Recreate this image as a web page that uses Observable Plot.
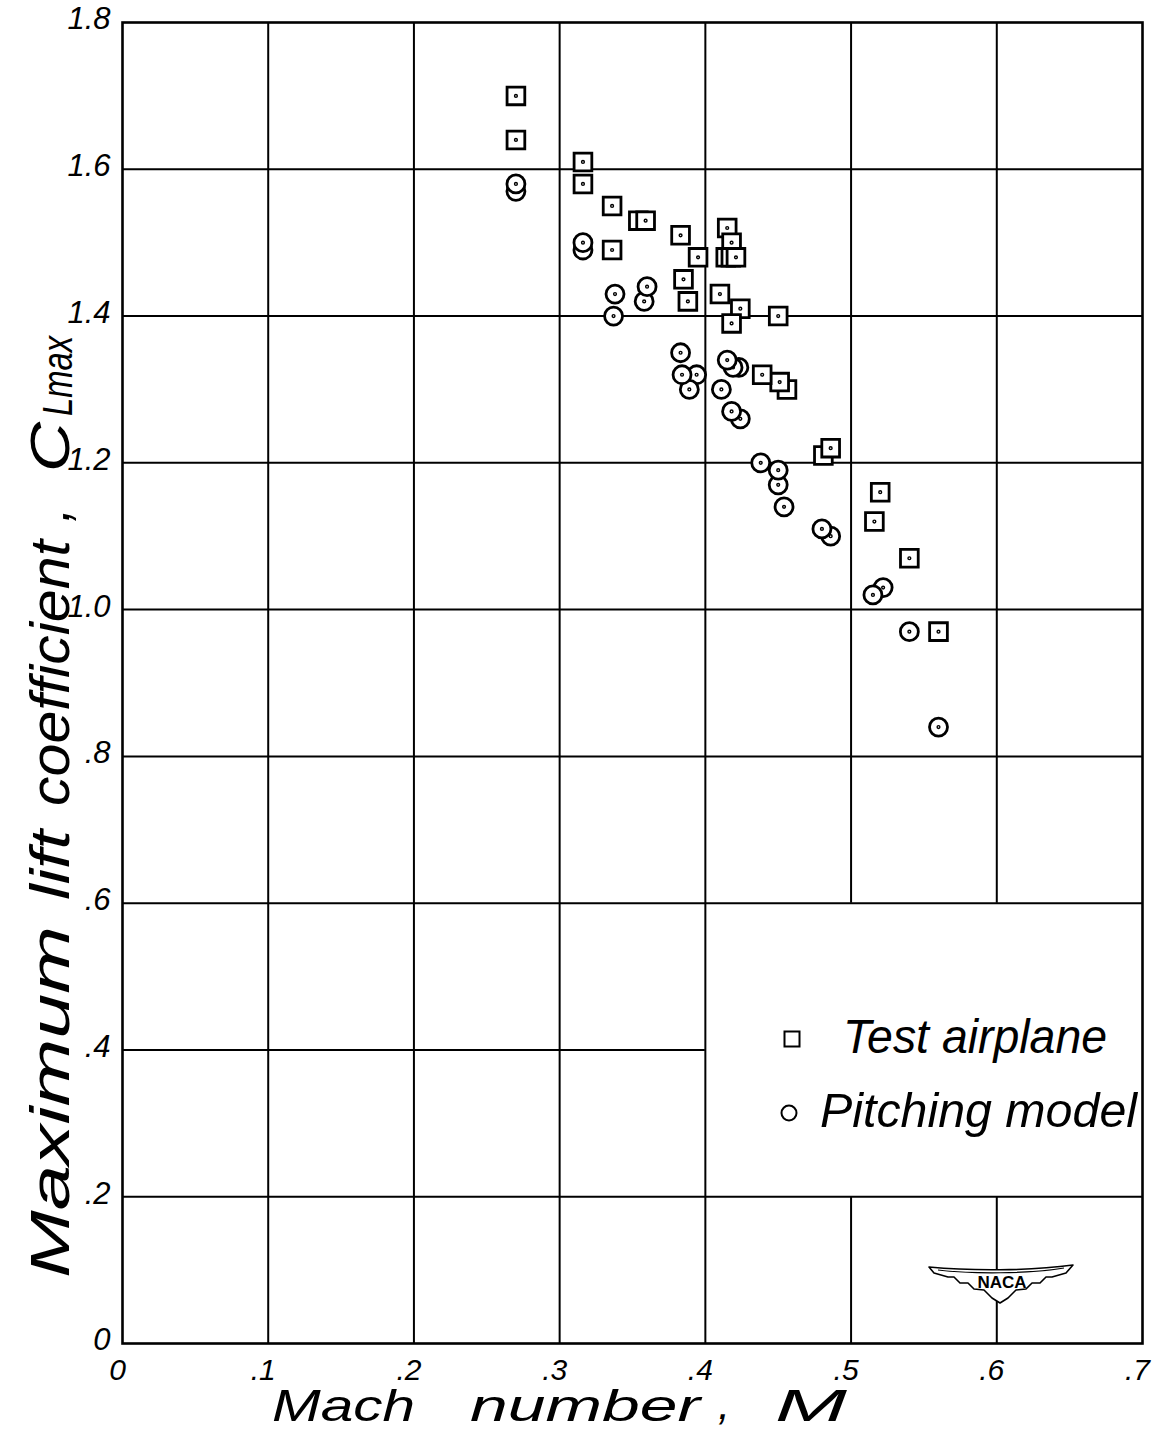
<!DOCTYPE html>
<html>
<head>
<meta charset="utf-8">
<script src="https://cdn.jsdelivr.net/npm/d3@7"></script>
<script src="https://cdn.jsdelivr.net/npm/@observablehq/plot@0.6"></script>
<style>
html,body{margin:0;padding:0;background:#fff;}
#chart svg{display:block;}
</style>
</head>
<body>
<div id="chart"></div>
<script>
// ---- data ----
const testMach = [0.270,0.270,0.316,0.316,0.336,0.336,0.354,0.359,0.383,0.395,0.385,0.388,0.415,0.418,0.414,0.4175,0.421,0.410,0.424,0.418,0.450,0.456,0.451,0.439,0.481,0.486,0.516,0.520,0.540,0.560];
const testCL   = [1.70,1.64,1.61,1.58,1.55,1.49,1.53,1.53,1.51,1.48,1.45,1.42,1.52,1.50,1.48,1.48,1.48,1.43,1.41,1.39,1.40,1.30,1.31,1.32,1.21,1.22,1.12,1.16,1.07,0.97];
const pitchMach = [0.270,0.270,0.316,0.316,0.337,0.338,0.358,0.360,0.394,0.389,0.384,0.383,0.423,0.419,0.415,0.411,0.424,0.418,0.454,0.450,0.450,0.438,0.486,0.480,0.522,0.515,0.540,0.560];
const pitchCL   = [1.57,1.58,1.49,1.50,1.40,1.43,1.42,1.44,1.32,1.30,1.32,1.35,1.33,1.33,1.34,1.30,1.26,1.27,1.14,1.17,1.19,1.20,1.10,1.11,1.03,1.02,0.97,0.84];

const xTicks = [0, 0.1, 0.2, 0.3, 0.4, 0.5, 0.6, 0.7];
const xTickLabels = ["0", ".1", ".2", ".3", ".4", ".5", ".6", ".7"];
const yTicks = [0, 0.2, 0.4, 0.6, 0.8, 1.0, 1.2, 1.4, 1.6, 1.8];
const yTickLabels = ["0", ".2", ".4", ".6", ".8", "1.0", "1.2", "1.4", "1.6", "1.8"];
const seriesNames = ["Test airplane", "Pitching model"];
const legendBox = {x1: 0.4, x2: 0.7, y1: 0.2, y2: 0.6};

(function () {
// ---- derived tables ----
const test = testMach.map((m, i) => ({m, c: testCL[i]}));
const pitch = pitchMach.map((m, i) => ({m, c: pitchCL[i]}));
const xTickData = xTicks.map((v, i) => ({v, label: xTickLabels[i]}));
const yTickData = yTicks.map((v, i) => ({v, label: yTickLabels[i]}));

const vSegs = [];
xTicks.slice(1, -1).forEach(x => {
  if (x > legendBox.x1 && x < legendBox.x2) {
    vSegs.push({x, y1: 0, y2: legendBox.y1});
    vSegs.push({x, y1: legendBox.y2, y2: 1.8});
  } else vSegs.push({x, y1: 0, y2: 1.8});
});
const hSegs = [];
yTicks.slice(1, -1).forEach(y => {
  if (y > legendBox.y1 && y < legendBox.y2) hSegs.push({y, x1: 0, x2: legendBox.x1});
  else hSegs.push({y, x1: 0, x2: 0.7});
});

// marker symbols with a centre dot (tiny stroked sub-path)
const squareSym = {draw(ctx, size) {
  const s = Math.sqrt(size) / 2;
  ctx.moveTo(-s, -s); ctx.lineTo(s, -s); ctx.lineTo(s, s); ctx.lineTo(-s, s); ctx.closePath();
  ctx.moveTo(0.7, 0); ctx.arc(0, 0, 0.7, 0, 2 * Math.PI);
}};
const circleSym = {draw(ctx, size) {
  const r = Math.sqrt(size / Math.PI);
  ctx.moveTo(r, 0); ctx.arc(0, 0, r, 0, 2 * Math.PI);
  ctx.moveTo(0.7, 0); ctx.arc(0, 0, 0.7, 0, 2 * Math.PI);
}};

const FONT = "'Liberation Sans', Arial, sans-serif";

const plot = Plot.plot({
  width: 1158, height: 1430,
  marginLeft: 122, marginRight: 16, marginTop: 22, marginBottom: 87,
  x: {domain: [0, 0.7], axis: null},
  y: {domain: [0, 1.8], axis: null},
  style: {background: "white", fontFamily: FONT, overflow: "visible"},
  marks: [
    Plot.ruleX(vSegs, {x: "x", y1: "y1", y2: "y2", stroke: "black", strokeWidth: 2}),
    Plot.ruleY(hSegs, {y: "y", x1: "x1", x2: "x2", stroke: "black", strokeWidth: 2}),
    Plot.frame({stroke: "black", strokeWidth: 2.6}),
    Plot.text(yTickData, {x: d => 0, y: "v", text: "label", dx: -12, dy: -3, textAnchor: "end", fontSize: 31, fontStyle: "italic", fill: "black"}),
    Plot.text(xTickData, {x: "v", y: d => 0, text: "label", dx: -5, dy: 27, fontSize: 30, fontStyle: "italic", fill: "black"}),
    Plot.dot(test, {x: "m", y: "c", symbol: squareSym, r: 10, stroke: "black", strokeWidth: 2.8, fill: "white"}),
    Plot.dot(pitch, {x: "m", y: "c", symbol: circleSym, r: 9, stroke: "black", strokeWidth: 2.8, fill: "white"})
  ]
});
document.getElementById("chart").appendChild(plot);

// ---- titles, legend, emblem ----
const svg = d3.select(plot);
const T = svg.append("g").attr("font-family", FONT).attr("font-style", "italic")
  .attr("fill", "black").attr("text-anchor", "start");

function word(g, txt, x, y, len, size) {
  return g.append("text").attr("x", x).attr("y", y).attr("font-size", size)
    .attr("text-anchor", "start")
    .attr("textLength", len).attr("lengthAdjust", "spacingAndGlyphs").text(txt);
}
// x title
word(T, "Mach", 272, 1421, 143, 44);
word(T, "number", 470, 1421, 230, 44);
word(T, ",", 718, 1419, 12, 44);
word(T, "M", 775, 1421, 72, 44);

// y title (rotated)
const YT = T.append("g").attr("transform", "translate(69,1278) rotate(-90)");
word(YT, "Maximum", 0, 0, 352, 56);
word(YT, "lift", 378, 0, 70, 56);
word(YT, "coefficient", 472, 0, 266, 56);
word(YT, ",", 756, 0, 14, 56);
word(YT, "C", 806, 0, 50, 56);
word(YT, "Lmax", 862, 3, 80, 42);

// legend
const L = svg.append("g");
L.append("rect").attr("x", 792 - 7.5).attr("y", 1039 - 7.5).attr("width", 15).attr("height", 15)
  .attr("fill", "white").attr("stroke", "black").attr("stroke-width", 2);
L.append("circle").attr("cx", 789).attr("cy", 1113).attr("r", 7.5)
  .attr("fill", "white").attr("stroke", "black").attr("stroke-width", 2);
word(T, seriesNames[0], 843, 1053, 264, 48);
word(T, seriesNames[1], 820, 1127, 317, 48);

// NACA emblem
const embX = 1000, embY = 1267;
const E = svg.append("g").attr("transform", `translate(${embX},${embY})`);
E.append("path")
  .attr("d", "M-71,0 C-30,4 30,4 73,-2 L66,6 L52,10 L46,10 L40,16 L32,16 L26,22 L16,23 L8,31 L0,36 L-8,31 L-16,23 L-26,22 L-32,16 L-40,16 L-46,10 L-52,10 L-66,6 Z")
  .attr("fill", "white").attr("stroke", "black").attr("stroke-width", 1.6).attr("stroke-linejoin", "round");
E.append("path").attr("d", "M-62,3 C-30,7 30,7 64,1").attr("fill", "none").attr("stroke", "black").attr("stroke-width", 1.2);
E.append("text").attr("x", 2).attr("y", 21).attr("text-anchor", "middle")
  .attr("font-family", FONT).attr("font-weight", "bold").attr("font-size", 17).text("NACA");
})();
</script>
</body>
</html>
